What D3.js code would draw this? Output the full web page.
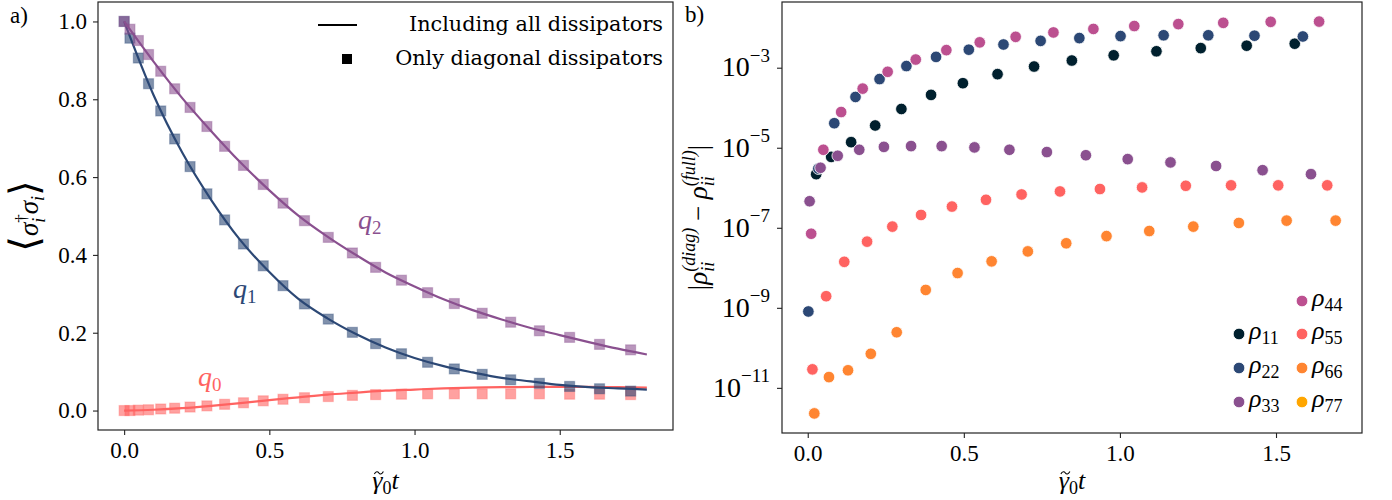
<!DOCTYPE html>
<html>
<head>
<meta charset="utf-8">
<script src="https://cdn.jsdelivr.net/npm/d3@7"></script>
<style>
  body { margin: 0; background: #fff; }
  text { font-family: "Liberation Serif", "DejaVu Serif", serif; fill: #000; white-space: pre; }
</style>
</head>
<body>
<svg id="fig" width="1392" height="500"></svg>
<script>
// ---- left panel: <sigma_i^dag sigma_i> ----
// times of the square markers (only diagonal dissipators)
const tSquares = [0, 0.02, 0.049, 0.084, 0.126, 0.174, 0.227, 0.285, 0.346, 0.411, 0.479, 0.547, 0.621,
  0.703, 0.786, 0.866, 0.955, 1.045, 1.137, 1.233, 1.331, 1.430, 1.534, 1.637, 1.744];
const q0Diag = [0, 0, 0.001, 0.002, 0.004, 0.006, 0.009, 0.012, 0.016, 0.020, 0.025, 0.029, 0.033,
  0.036, 0.039, 0.041, 0.042, 0.043, 0.043, 0.043, 0.043, 0.043, 0.042, 0.042, 0.041];
const q1Diag = [1.0, 0.957, 0.906, 0.840, 0.770, 0.698, 0.627, 0.557, 0.490, 0.428, 0.372, 0.321, 0.274,
  0.235, 0.201, 0.172, 0.146, 0.124, 0.107, 0.093, 0.079, 0.070, 0.062, 0.056, 0.050];
const q2Diag = [1.0, 0.980, 0.951, 0.915, 0.872, 0.827, 0.779, 0.730, 0.679, 0.630, 0.581, 0.533, 0.488,
  0.445, 0.405, 0.368, 0.335, 0.303, 0.275, 0.250, 0.227, 0.205, 0.188, 0.170, 0.156];

const tLine = [0, 0.1, 0.2, 0.3, 0.4, 0.5, 0.6, 0.7, 0.8, 0.9, 1.0, 1.1, 1.2, 1.3, 1.4, 1.5, 1.6, 1.7, 1.8];
const q0Full = [0, 0.002, 0.006, 0.012, 0.019, 0.027, 0.034, 0.041, 0.046, 0.051, 0.054, 0.057, 0.059,
  0.060, 0.061, 0.061, 0.061, 0.060, 0.059];
const q1Full = [1.0, 0.813, 0.663, 0.541, 0.438, 0.356, 0.287, 0.237, 0.196, 0.162, 0.135, 0.114, 0.098,
  0.084, 0.075, 0.066, 0.060, 0.057, 0.054];
const q2Full = [1.0, 0.898, 0.803, 0.718, 0.638, 0.566, 0.501, 0.447, 0.399, 0.355, 0.319, 0.286, 0.258,
  0.234, 0.212, 0.194, 0.176, 0.159, 0.144];

const qLabels = ['0', '1', '2'];
const qTicksX = [0, 0.5, 1.0, 1.5];
const qTicksY = [0, 0.2, 0.4, 0.6, 0.8, 1.0];

// ---- right panel: |rho_ii^diag - rho_ii^full| ----
const rho11T = [0.027, 0.075, 0.139, 0.216, 0.300, 0.395, 0.497, 0.608, 0.725, 0.846, 0.980, 1.117, 1.259, 1.406, 1.560];
const rho11 = [2.19e-6, 5.9e-6, 1.38e-5, 3.6e-5, 9.3e-5, 2.09e-4, 4.1e-4, 6.9e-4, 1.07e-3, 1.51e-3, 2.04e-3, 2.57e-3, 3.09e-3, 3.55e-3, 3.98e-3];
const rho22T = [0.002, 0.034, 0.085, 0.153, 0.230, 0.316, 0.411, 0.516, 0.627, 0.746, 0.870, 1.002, 1.140, 1.283, 1.431, 1.586];
const rho22 = [8.1e-10, 3.0e-6, 4.1e-5, 1.86e-4, 5.2e-4, 1.10e-3, 1.86e-3, 2.82e-3, 3.80e-3, 4.68e-3, 5.50e-3, 6.17e-3, 6.46e-3, 6.46e-3, 6.31e-3, 6.03e-3];
const rho33T = [0.006, 0.041, 0.096, 0.165, 0.244, 0.331, 0.429, 0.534, 0.646, 0.766, 0.891, 1.025, 1.162, 1.308, 1.457, 1.612];
const rho33 = [4.6e-7, 3.16e-6, 6.3e-6, 8.9e-6, 1.05e-5, 1.10e-5, 1.10e-5, 1.02e-5, 8.9e-6, 7.8e-6, 6.5e-6, 5.2e-6, 4.3e-6, 3.5e-6, 2.75e-6, 2.19e-6];
const rho44T = [0.011, 0.050, 0.107, 0.176, 0.256, 0.346, 0.444, 0.551, 0.666, 0.787, 0.915, 1.046, 1.187, 1.331, 1.483, 1.638];
const rho44 = [7.1e-8, 8.9e-6, 7.8e-5, 3.0e-4, 7.9e-4, 1.6e-3, 2.75e-3, 4.3e-3, 5.9e-3, 7.6e-3, 9.3e-3, 1.10e-2, 1.23e-2, 1.32e-2, 1.40e-2, 1.42e-2];
const rho55T = [0.015, 0.059, 0.117, 0.190, 0.271, 0.363, 0.462, 0.571, 0.685, 0.808, 0.936, 1.071, 1.211, 1.356, 1.507, 1.664];
const rho55 = [2.9e-11, 1.95e-9, 1.41e-8, 4.5e-8, 1.07e-7, 2.09e-7, 3.39e-7, 5.0e-7, 6.8e-7, 8.1e-7, 9.3e-7, 1.02e-6, 1.12e-6, 1.15e-6, 1.15e-6, 1.15e-6];
const rho66T = [0.021, 0.068, 0.129, 0.202, 0.285, 0.378, 0.480, 0.589, 0.705, 0.828, 0.957, 1.094, 1.235, 1.381, 1.534, 1.691];
const rho66 = [2.3e-12, 1.86e-11, 2.75e-11, 7.1e-11, 2.45e-10, 2.8e-9, 7.4e-9, 1.45e-8, 2.57e-8, 4.1e-8, 6.2e-8, 8.3e-8, 1.07e-7, 1.32e-7, 1.51e-7, 1.51e-7];
// rho77 has no visible points (difference is zero), it only shows in the legend
const rho77T = [];
const rho77 = [];

const rhoNames = ['11', '22', '33', '44', '55', '66', '77'];
const rhoTicksX = [0, 0.5, 1.0, 1.5];
const rhoTicksY = [1e-3, 1e-5, 1e-7, 1e-9, 1e-11];

const palette = ['#00202e', '#2c4875', '#8a508f', '#bc5090', '#ff6361', '#ff8531', '#ffa600'];
const qColors = [palette[4], palette[1], palette[2]];

const svg = d3.select('#fig');

// pad an extent by 5% like matplotlib does
const padded = (lo, hi) => [lo - (hi - lo) * 0.05, hi + (hi - lo) * 0.05];

// sequential math-ish text: pieces placed one after another,
// "stack" puts a piece at the x of the previous one, "tilde" draws an accent over the previous one
function mathText(g, parts, anchor) {
  let x = 0, prevX = 0, prevW = 0;
  const nodes = [];
  parts.forEach(p => {
    if (p.tilde) {
      const cx = prevX + prevW / 2 + (p.dx || 0), y = p.dy || -16;
      const el = g.append('path')
        .attr('d', `M${cx - 4.5},${y + 1} C${cx - 3},${y - 2} ${cx - 1},${y - 1.5} ${cx},${y} S${cx + 3},${y + 1.5} ${cx + 4.5},${y - 1.5}`)
        .attr('fill', 'none').attr('stroke', '#000').attr('stroke-width', 1.1);
      nodes.push({ path: el });
      return;
    }
    const px = p.stack ? prevX + (p.dx || 0) : x;
    const el = g.append('text')
      .attr('x', px)
      .attr('y', p.dy || 0)
      .style('font-size', p.size + 'px')
      .style('font-style', p.it ? 'italic' : 'normal')
      .style('fill', p.color || null)
      .text(p.t);
    const w = el.node().getComputedTextLength();
    if (p.stack) {
      x = Math.max(prevX + prevW, px + w);
    } else {
      prevX = px; prevW = w; x = px + w;
    }
    nodes.push({ text: el });
  });
  const shift = anchor === 'middle' ? -x / 2 : anchor === 'end' ? -x : 0;
  nodes.forEach(n => {
    if (n.text) n.text.attr('x', +n.text.attr('x') + shift);
    else n.path.attr('transform', `translate(${shift},0)`);
  });
  return x;
}

function styleAxis(sel) {
  sel.selectAll('.domain').remove();
  sel.selectAll('.tick line').attr('stroke', '#222').attr('stroke-width', 1.1);
  sel.selectAll('.tick text').style('font-size', '23px');
}

function frame(box) {
  svg.append('rect')
    .attr('x', box.x0).attr('y', box.y0)
    .attr('width', box.x1 - box.x0).attr('height', box.y1 - box.y0)
    .attr('fill', 'none').attr('stroke', '#222').attr('stroke-width', 1.2);
}

const xLabelParts = [
  { t: 'γ', size: 26, it: true },
  { tilde: true, dx: 1.5, dy: -16 },
  { t: '0', size: 18, dy: 5 },
  { t: 't', size: 26, it: true }
];

// ================= left panel =================
const L = { x0: 98, x1: 673, y0: 2, y1: 430 };
const xL = d3.scaleLinear().domain(padded(0, d3.max(tLine))).range([L.x0, L.x1]);
const yL = d3.scaleLinear().domain(padded(0, 1)).range([L.y1, L.y0]);

svg.append('g').attr('transform', `translate(0,${L.y1})`)
  .call(d3.axisBottom(xL).tickValues(qTicksX).tickFormat(d3.format('.1f')).tickSize(5).tickPadding(7))
  .call(styleAxis);
svg.append('g').attr('transform', `translate(${L.x0},0)`)
  .call(d3.axisLeft(yL).tickValues(qTicksY).tickFormat(d3.format('.1f')).tickSize(5).tickPadding(6))
  .call(styleAxis);

const lineL = d3.line().x(d => xL(d[0])).y(d => yL(d[1])).curve(d3.curveMonotoneX);
const fullSeries = [q0Full, q1Full, q2Full];
const diagSeries = [q0Diag, q1Diag, q2Diag];
const sq = 10;

fullSeries.forEach((vals, k) => {
  const g = svg.append('g');
  g.append('path')
    .datum(tLine.map((t, i) => [t, vals[i]]))
    .attr('d', lineL)
    .attr('fill', 'none')
    .attr('stroke', qColors[k])
    .attr('stroke-width', 2.2);
  g.selectAll('rect')
    .data(tSquares.map((t, i) => [t, diagSeries[k][i]]))
    .join('rect')
    .attr('x', d => xL(d[0]) - sq / 2)
    .attr('y', d => yL(d[1]) - sq / 2)
    .attr('width', sq).attr('height', sq)
    .attr('fill', qColors[k]).attr('fill-opacity', 0.6)
    .attr('stroke', qColors[k]).attr('stroke-opacity', 0.35).attr('stroke-width', 1.2);
});

frame(L);

// curve labels
const qLabelPos = [[198, 386], [233, 298], [358, 229]];
qLabels.forEach((s, k) => {
  const g = svg.append('g').attr('transform', `translate(${qLabelPos[k][0]},${qLabelPos[k][1]})`);
  mathText(g, [
    { t: 'q', size: 28, it: true, color: qColors[k] },
    { t: s, size: 19, dy: 5, color: qColors[k] }
  ], 'start');
});

// legend
svg.append('line').attr('x1', 318).attr('x2', 357).attr('y1', 25).attr('y2', 25)
  .attr('stroke', '#000').attr('stroke-width', 2);
svg.append('rect').attr('x', 342).attr('y', 54).attr('width', 10).attr('height', 10).attr('fill', '#000');
svg.append('text').attr('x', 663).attr('y', 31).attr('text-anchor', 'end')
  .style('font-family', '"DejaVu Serif", serif').style('font-size', '20.8px')
  .text('Including all dissipators');
svg.append('text').attr('x', 663).attr('y', 65).attr('text-anchor', 'end')
  .style('font-family', '"DejaVu Serif", serif').style('font-size', '20.8px')
  .text('Only diagonal dissipators');

// axis labels
{
  const g = svg.append('g').attr('transform', `translate(${(L.x0 + L.x1) / 2},489)`);
  mathText(g, xLabelParts, 'middle');
  const gy = svg.append('g').attr('transform', `translate(38,${(L.y0 + L.y1) / 2}) rotate(-90)`);
  mathText(gy, [
    { t: '⟨', size: 40 },
    { t: 'σ', size: 27, it: true },
    { t: '†', size: 17, dy: -11 },
    { t: 'i', size: 18, it: true, dy: 7, stack: true },
    { t: 'σ', size: 27, it: true },
    { t: 'i', size: 18, it: true, dy: 6 },
    { t: '⟩', size: 40 }
  ], 'middle');
}
svg.append('text').attr('x', 10).attr('y', 23).style('font-size', '23px').text('a)');

// ================= right panel =================
const R = { x0: 782, x1: 1362, y0: 2, y1: 433 };
const rhoT = [rho11T, rho22T, rho33T, rho44T, rho55T, rho66T, rho77T];
const rhoV = [rho11, rho22, rho33, rho44, rho55, rho66, rho77];
const allT = rhoT.flat(), allV = rhoV.flat();
const xR = d3.scaleLinear().domain(padded(d3.min(allT), d3.max(allT))).range([R.x0, R.x1]);
const logExt = padded(Math.log10(d3.min(allV)), Math.log10(d3.max(allV)));
const yR = d3.scaleLog().domain([Math.pow(10, logExt[0]), Math.pow(10, logExt[1])]).range([R.y1, R.y0]);

svg.append('g').attr('transform', `translate(0,${R.y1})`)
  .call(d3.axisBottom(xR).tickValues(rhoTicksX).tickFormat(d3.format('.1f')).tickSize(5).tickPadding(7))
  .call(styleAxis);
const yAxR = svg.append('g').attr('transform', `translate(${R.x0},0)`)
  .call(d3.axisLeft(yR).tickValues(rhoTicksY).tickFormat('').tickSize(5).tickPadding(7))
  .call(styleAxis);
yAxR.selectAll('.tick text').each(function (d) {
  const t = d3.select(this).attr('dy', '0.36em');
  t.append('tspan').style('font-size', '28px').text('10');
  t.append('tspan').style('font-size', '19px').attr('dy', '-0.75em')
    .text('−' + Math.round(-Math.log10(d)));
});

rhoT.forEach((ts, k) => {
  svg.append('g').selectAll('circle')
    .data(ts.map((t, i) => [t, rhoV[k][i]]))
    .join('circle')
    .attr('cx', d => xR(d[0]))
    .attr('cy', d => yR(d[1]))
    .attr('r', 5.8)
    .attr('fill', palette[k])
    .attr('stroke', '#fff').attr('stroke-width', 0.8);
});

frame(R);

// legend: two columns, first column starts one row lower
const legRows = [301, 334, 368, 402];
const legSlots = [[0, 1], [0, 2], [0, 3], [1, 0], [1, 1], [1, 2], [1, 3]];
const legCols = [1239, 1302];
rhoNames.forEach((n, k) => {
  const cx = legCols[legSlots[k][0]], cy = legRows[legSlots[k][1]];
  svg.append('circle').attr('cx', cx).attr('cy', cy).attr('r', 5.8).attr('fill', palette[k])
    .attr('stroke', '#fff').attr('stroke-width', 0.8);
  const g = svg.append('g').attr('transform', `translate(${cx + 10},${cy + 5})`);
  mathText(g, [
    { t: 'ρ', size: 26, it: true },
    { t: n, size: 18, dy: 5 }
  ], 'start');
});

// axis labels
{
  const g = svg.append('g').attr('transform', `translate(${(R.x0 + R.x1) / 2},489)`);
  mathText(g, xLabelParts, 'middle');
  const gy = svg.append('g').attr('transform', `translate(707,${(R.y0 + R.y1) / 2}) rotate(-90)`);
  mathText(gy, [
    { t: '|', size: 27 },
    { t: 'ρ', size: 27, it: true },
    { t: '(diag)', size: 18, it: true, dy: -12 },
    { t: 'ii', size: 18, it: true, dy: 7, stack: true },
    { t: '\u00a0−\u00a0', size: 27 },
    { t: 'ρ', size: 27, it: true },
    { t: '(full)', size: 18, it: true, dy: -12 },
    { t: 'ii', size: 18, it: true, dy: 7, stack: true },
    { t: '|', size: 27 }
  ], 'middle');
}
svg.append('text').attr('x', 685).attr('y', 22).style('font-size', '23px').text('b)');
</script>
</body>
</html>
